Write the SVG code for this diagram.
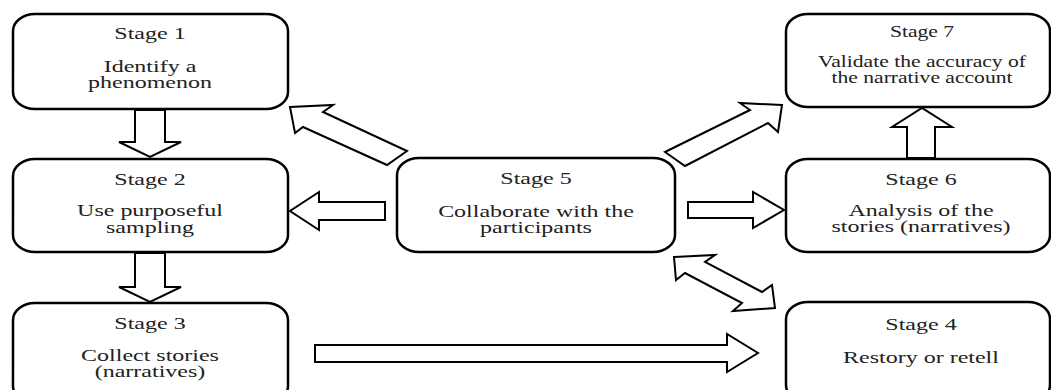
<svg xmlns="http://www.w3.org/2000/svg" width="1051" height="390" viewBox="0 0 1051 390">
<style>
.box{fill:#fff;stroke:#000;stroke-width:2.5}
.arr{fill:#fff;stroke:#000;stroke-width:2;stroke-linejoin:miter}
.t{font-family:'Liberation Serif','DejaVu Serif','Times New Roman',serif;font-size:16px;fill:#222;text-anchor:middle}
</style>
<rect width="1051" height="390" fill="#fff"/>
<g id="connectors">
<polygon class="arr" points="135,110 165,110 165,142 181,142 150,157 119,142 135,142"/>
<polygon class="arr" points="135,253 165,253 165,287 181,287 150,302 119,287 135,287"/>
<polygon class="arr" points="385,202 319,202 319,192 290,211 319,230 319,220 385,220"/>
<polygon class="arr" points="688,202 753,202 753,192 784,210 753,228 753,218 688,218"/>
<polygon class="arr" points="907,158 907,127 892,127 922,108 952,127 935,127 935,158"/>
<polygon class="arr" points="290,107 333,105 323,112 407,151 387,165 303,127 295,133"/>
<polygon class="arr" points="782,105 740,103 750,110 665,152 685,166 768,123 778,132"/>
<polygon class="arr" points="674,257 715,255 705,262 762,292 772,285 775,308 733,311 742,303 685,273 676,280"/>
<polygon class="arr" points="315,345 727,345 727,334 758,353 727,372 727,362 315,362"/>
</g>
<g id="stage1">
<rect class="box" x="13" y="14" width="275" height="95" rx="22" ry="17"/>
<g class="t" font-family="Liberation Serif, serif" transform="translate(150,0) scale(1.5,1)">
<text x="0" y="39">Stage 1</text>
<text x="0" y="72">Identify a</text>
<text x="0" y="88">phenomenon</text>
</g>
</g>
<g id="stage2">
<rect class="box" x="13" y="159" width="275" height="93" rx="22" ry="17"/>
<g class="t" font-family="Liberation Serif, serif" transform="translate(150,0) scale(1.5,1)">
<text x="0" y="185">Stage 2</text>
<text x="0" y="216">Use purposeful</text>
<text x="0" y="233">sampling</text>
</g>
</g>
<g id="stage3">
<rect class="box" x="13" y="303" width="275" height="100" rx="22" ry="17"/>
<g class="t" font-family="Liberation Serif, serif" transform="translate(150,0) scale(1.5,1)">
<text x="0" y="329">Stage 3</text>
<text x="0" y="361">Collect stories</text>
<text x="0" y="377">(narratives)</text>
</g>
</g>
<g id="stage5">
<rect class="box" x="397" y="158" width="278" height="94" rx="22" ry="17"/>
<g class="t" font-family="Liberation Serif, serif" transform="translate(536,0) scale(1.5,1)">
<text x="0" y="184">Stage 5</text>
<text x="0" y="217">Collaborate with the</text>
<text x="0" y="233">participants</text>
</g>
</g>
<g id="stage7">
<rect class="box" x="786" y="14" width="264" height="93" rx="22" ry="17"/>
<g class="t" font-family="Liberation Serif, serif" transform="translate(922,0) scale(1.35,1)">
<text x="0" y="37">Stage 7</text>
<text x="0" y="67">Validate the accuracy of</text>
<text x="0" y="83">the narrative account</text>
</g>
</g>
<g id="stage6">
<rect class="box" x="786" y="159" width="264" height="93" rx="22" ry="17"/>
<g class="t" font-family="Liberation Serif, serif" transform="translate(921,0) scale(1.5,1)">
<text x="0" y="185">Stage 6</text>
<text x="0" y="216">Analysis of the</text>
<text x="0" y="232">stories (narratives)</text>
</g>
</g>
<g id="stage4">
<rect class="box" x="786" y="302" width="264" height="100" rx="22" ry="17"/>
<g class="t" font-family="Liberation Serif, serif" transform="translate(921,0) scale(1.5,1)">
<text x="0" y="330">Stage 4</text>
<text x="0" y="363">Restory or retell</text>
</g>
</g>
</svg>
